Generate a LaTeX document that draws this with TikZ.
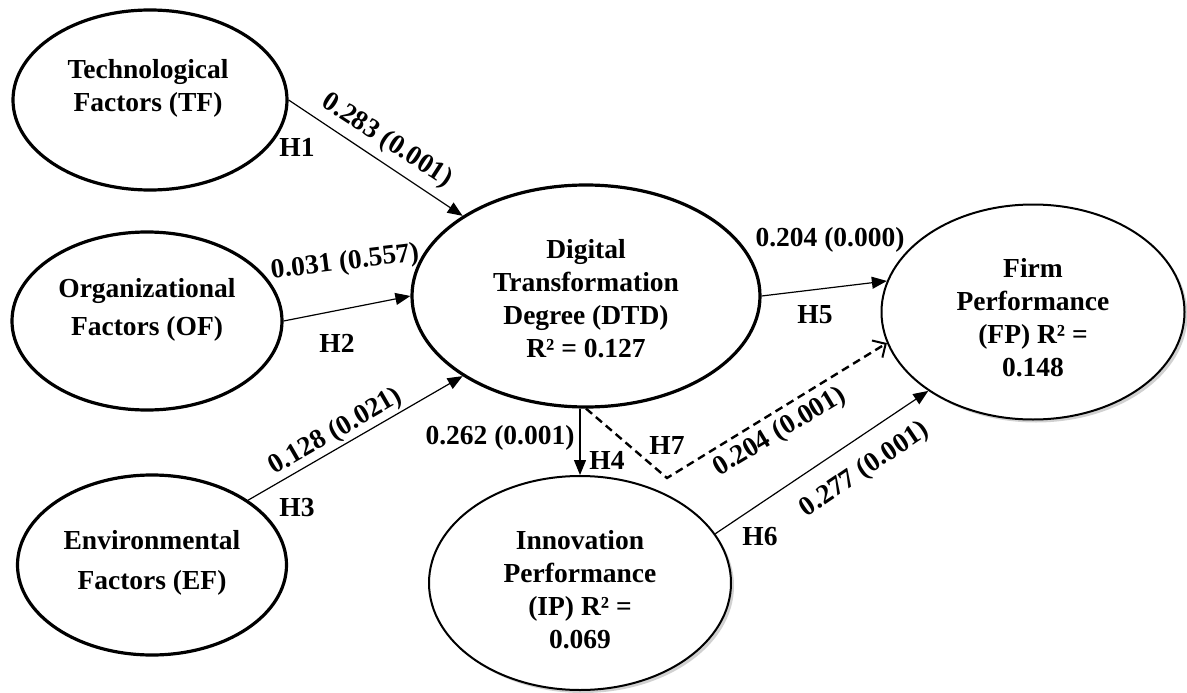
\documentclass[tikz,border=0pt]{standalone}
\usepackage{fontspec}
\setmainfont{Liberation Serif}
\usetikzlibrary{shapes.geometric,arrows.meta,shadows}
\begin{document}
\begin{tikzpicture}[x=1pt,y=-1pt,
  every node/.style={font=\fontsize{27.5}{33}\selectfont\bfseries},
  thickell/.style={ellipse, draw, line width=3.2pt, inner sep=0pt},
  thinell/.style={ellipse, draw, line width=2pt, inner sep=0pt, fill=white,
    drop shadow={shadow xshift=3pt, shadow yshift=-3pt, fill=black, opacity=0.18}},
  txt/.style={align=center, inner sep=0pt},
  lbl/.style={inner sep=0pt},
  conn/.style={line width=1.2pt, -{Triangle[length=15pt,width=12pt]}},
  dconn/.style={line width=2.4pt, dash pattern=on 8pt off 5pt,
    -{Straight Barb[length=10pt,width=20pt,line width=2pt]}},
]
\useasboundingbox[fill=white] (0,0) rectangle (1187,693);

% ellipses
\node[thickell, minimum width=274pt, minimum height=180pt] (TF) at (150,100) {};
\node[thickell, minimum width=270pt, minimum height=178pt] (OF) at (147,321) {};
\node[thickell, minimum width=269pt, minimum height=180pt] (EF) at (152,565) {};
\node[thickell, minimum width=348pt, minimum height=222pt] (DTD) at (586,296) {};
\node[thinell, minimum width=302pt, minimum height=214pt] (IP) at (580,583) {};
\node[thinell, minimum width=303pt, minimum height=215pt] (FP) at (1033,312) {};

% texts
\node[txt] (TFt) at (148,88) {Technological\\Factors (TF)};
\node[txt] (OFt) at (147,310) {Organizational\\[5pt]Factors (OF)};
\node[txt] (EFt) at (152,563) {Environmental\\[7pt]Factors (EF)};
\node[txt] (DTDt) at (586,299) {Digital\\Transformation\\Degree (DTD)\\R² = 0.127};
\node[txt] (IPt) at (580,590) {Innovation\\Performance\\(IP) R² =\\0.069};
\node[txt] (FPt) at (1033,318) {Firm\\Performance\\(FP) R² =\\0.148};

% connectors
\coordinate (h7c) at (667,478);
\draw[conn] (TF.east) -- (DTD.147.5);
\draw[conn] (OF.east) -- (DTD.west);
\draw[conn] (EF.34) -- (DTD.213);
\draw[conn] (IP.north |- DTD.south) -- (IP.north);
\draw[conn] (DTD.east) -- (FP.168.7);
\draw[conn] (IP.20) -- (FP.217);
\draw[dconn] (DTD.south) -- (h7c) -- (FP.192);

% path labels
\node[lbl, rotate=-33] (l1) at (387,141) {0.283 (0.001)};
\node[lbl, rotate=7] (l2) at (345,263) {0.031 (0.557)};
\node[lbl, rotate=30] (l3) at (336,432) {0.128 (0.021)};
\node[lbl] (l4) at (500,438) {0.262 (0.001)};
\node[lbl] (l5) at (830,240) {0.204 (0.000)};
\node[lbl, rotate=31] (l7) at (780,432) {0.204 (0.001)};
\node[lbl, rotate=34] (l6) at (865,470) {0.277 (0.001)};

\node[lbl] (H1) at (297,147) {H1};
\node[lbl] (H2) at (337,343) {H2};
\node[lbl] (H3) at (297,508) {H3};
\node[lbl] (H4) at (607,460) {H4};
\node[lbl] (H5) at (815,315) {H5};
\node[lbl] (H6) at (760,537) {H6};
\node[lbl] (H7) at (667,445) {H7};
\end{tikzpicture}
\end{document}
